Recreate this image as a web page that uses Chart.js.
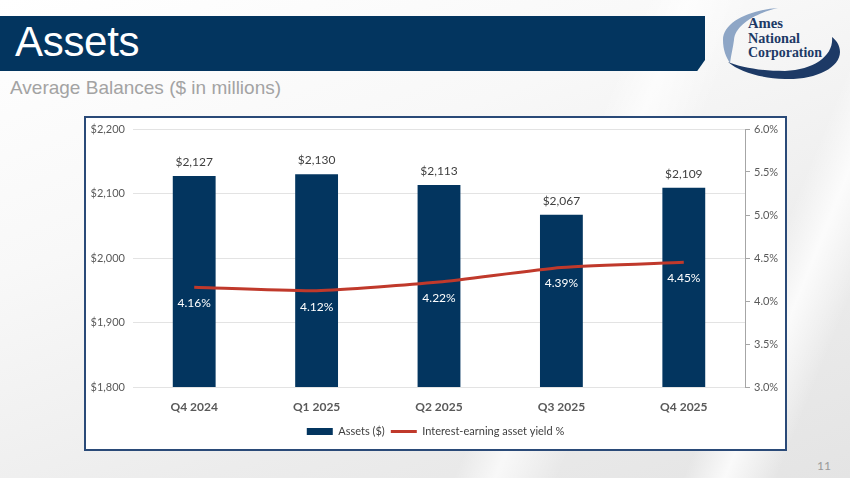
<!DOCTYPE html>
<html>
<head>
<meta charset="utf-8">
<script src="https://cdn.jsdelivr.net/npm/chart.js@4.4.0/dist/chart.umd.min.js"></script>
<style>
  html, body { margin: 0; padding: 0; }
  body {
    width: 850px; height: 478px; position: relative; overflow: hidden;
    background:
      linear-gradient(112deg, rgba(255,255,255,0) 0%, rgba(255,255,255,0) 62%, rgba(255,255,255,0.7) 66%, rgba(255,255,255,0) 72%, rgba(255,255,255,0) 84%, rgba(255,255,255,0.8) 88%, rgba(255,255,255,0) 93%),
      linear-gradient(160deg, #ffffff 0%, #f8f8f8 35%, #ececec 70%, #e4e4e4 100%);
    font-family: "Liberation Sans", Arial, sans-serif;
  }
  #band {
    position: absolute; left: 0; top: 16px; width: 705px; height: 55px;
    background: #03355f;
    clip-path: polygon(0 0, 100% 0, 100% 80%, 98.9% 100%, 0 100%);
  }
  #title {
    position: absolute; left: 15px; top: 15px; color: #fff;
    font-size: 42px; line-height: 54px; letter-spacing: -0.3px;
  }
  #subtitle {
    position: absolute; left: 10px; top: 76px; color: #a3a3a3;
    font-size: 19px; line-height: 24px;
  }
  #logo { position: absolute; left: 715px; top: 0; }
  #box {
    position: absolute; left: 84px; top: 116px; width: 699px; height: 331px;
    border: 2px solid #2a4a78; background: #fff;
  }
  #pageno {
    position: absolute; left: 817px; top: 458px; color: #9a9a9a;
    font-family: Lato, sans-serif; font-size: 12px;
  }
</style>
</head>
<body>
<div id="band"></div>
<div id="title">Assets</div>
<div id="subtitle">Average Balances ($ in millions)</div>
<svg id="logo" width="135" height="82" viewBox="0 0 135 82">
  <path d="M63 8 C 35 10, 8 22, 8 40 C 8 50, 11 57, 15 63 C 16 55, 18 48, 19 40 C 20 26, 38 14, 63 8 Z" fill="#8ea6c6"/>
  <path d="M13 62 C 25 72, 45 78, 70 79 C 100 80, 125 68, 125 52 C 125 45, 121 40, 117 37 C 119 55, 100 70, 70 71 C 45 71, 25 67, 13 62 Z" fill="#1d3a66"/>
  <g font-family="Liberation Serif, serif" font-weight="bold" font-size="14" fill="#1d3a66">
    <text x="33" y="28" textLength="35" lengthAdjust="spacingAndGlyphs">Ames</text>
    <text x="33" y="43" textLength="52" lengthAdjust="spacingAndGlyphs">National</text>
    <text x="33" y="57" textLength="74" lengthAdjust="spacingAndGlyphs">Corporation</text>
  </g>
</svg>
<div id="box"><canvas id="chart" width="699" height="331"></canvas></div>
<div id="pageno">11</div>
<script>
// chart data
const quarters = ["Q4 2024", "Q1 2025", "Q2 2025", "Q3 2025", "Q4 2025"];
const assets = [2127, 2130, 2113, 2067, 2109];
const yieldPct = [4.16, 4.12, 4.22, 4.39, 4.45];
const assetTicks = [1800, 1900, 2000, 2100, 2200];
const yieldTicks = [3.0, 3.5, 4.0, 4.5, 5.0, 5.5, 6.0];

const NAVY = "#03355f";
const RED = "#c0392b";
const TXT = "#595959";
const FONT = "Lato, 'Open Sans', sans-serif";

// value labels drawn on top of bars / under line points
const valueLabels = {
  id: "valueLabels",
  afterDatasetsDraw(chart) {
    const ctx = chart.ctx;
    ctx.save();
    ctx.textAlign = "center";
    ctx.textBaseline = "middle";
    ctx.font = "12px " + FONT;
    ctx.fillStyle = "#404040";
    chart.getDatasetMeta(0).data.forEach((bar, i) => {
      ctx.fillText("$" + assets[i].toLocaleString("en-US"), bar.x, bar.y - 14);
    });
    ctx.fillStyle = "#ffffff";
    chart.getDatasetMeta(1).data.forEach((pt, i) => {
      ctx.fillText(yieldPct[i].toFixed(2) + "%", pt.x, pt.y + 16);
    });
    ctx.restore();
  },
};

new Chart(document.getElementById("chart"), {
  data: {
    labels: quarters,
    datasets: [
      {
        type: "bar",
        label: "Assets ($)",
        data: assets,
        backgroundColor: NAVY,
        yAxisID: "y",
        barPercentage: 0.35,
        categoryPercentage: 1,
        order: 2,
        pointStyle: "rect",
      },
      {
        type: "line",
        label: "Interest-earning asset yield %",
        data: yieldPct,
        borderColor: RED,
        backgroundColor: RED,
        borderWidth: 3,
        pointRadius: 0,
        tension: 0.2,
        yAxisID: "y1",
        order: 1,
        pointStyle: "line",
      },
    ],
  },
  options: {
    responsive: false,
    animation: false,
    layout: { padding: { top: 11, bottom: 2, left: 0, right: 0 } },
    plugins: {
      tooltip: { enabled: false },
      legend: {
        position: "bottom",
        labels: {
          usePointStyle: true,
          pointStyleWidth: 26,
          boxHeight: 7,
          padding: 6,
          color: "#404040",
          font: { family: FONT, size: 11 },
          sort: (a, b) => a.datasetIndex - b.datasetIndex,
        },
      },
    },
    scales: {
      x: {
        grid: { display: false, drawTicks: false },
        border: { display: false },
        afterFit: (s) => { s.height = 33; s.paddingLeft = 0; s.paddingRight = 0; },
        ticks: { color: TXT, font: { family: FONT, size: 12, weight: "bold" }, padding: 13 },
      },
      y: {
        position: "left",
        min: 1800,
        max: 2200,
        afterBuildTicks: (s) => { s.ticks = assetTicks.map((v) => ({ value: v })); },
        afterFit: (s) => { s.width = 47; s.paddingTop = 0; s.paddingBottom = 0; },
        grid: { color: "#e3e3e3", drawTicks: false },
        border: { display: false },
        ticks: {
          color: TXT,
          font: { family: FONT, size: 11 },
          padding: 8,
          callback: (v) => "$" + v.toLocaleString("en-US"),
        },
      },
      y1: {
        position: "right",
        min: 3.0,
        max: 6.0,
        afterBuildTicks: (s) => { s.ticks = yieldTicks.map((v) => ({ value: v })); },
        afterFit: (s) => { s.width = 40; s.paddingTop = 0; s.paddingBottom = 0; },
        grid: { drawOnChartArea: false, color: "#a6a6a6", tickLength: 5 },
        border: { display: true, color: "#a6a6a6" },
        ticks: {
          color: TXT,
          font: { family: FONT, size: 11 },
          padding: 4,
          callback: (v) => v.toFixed(1) + "%",
        },
      },
    },
  },
  plugins: [valueLabels],
});
</script>
</body>
</html>
